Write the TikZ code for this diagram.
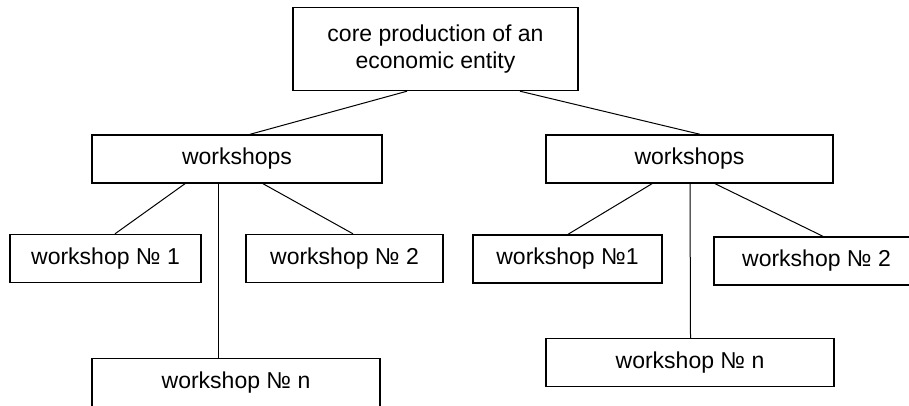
\documentclass[tikz,border=0pt]{standalone}
\usepackage{fontspec}
\setmainfont{Liberation Sans}
\usepackage{tikz}
\usetikzlibrary{positioning}

\begin{document}
\begin{tikzpicture}[
  x=1pt, y=-1pt,
  font=\fontsize{23}{27}\selectfont,
  unit/.style={draw, line width=1.4pt, align=center, inner sep=2pt,
    minimum height=48pt},
  link/.style={line width=1pt}
]
  \useasboundingbox (0,0) rectangle (909,405);

  % top level
  \node[unit, minimum width=285pt, minimum height=83pt] (core) at (435.5,49)
    {core production of an\\economic entity};

  % two groups of workshops
  \node[unit, minimum width=290pt] (wsL) at (237,159) {workshops};
  \node[unit, minimum width=287pt] (wsR) at (689.5,159) {workshops};

  \node[unit, minimum width=191pt] (wL1) at (105.5,258.5) {workshop № 1};
  \node[unit, minimum width=197pt] (wL2) at (344.5,258.5) {workshop № 2};
  \node[unit, minimum width=288pt] (wLn) at (236,382.5) {workshop № n};

  \node[unit, minimum width=189pt] (wR1) at (567.5,259) {workshop №1};
  \node[unit, minimum width=205pt] (wR2) at (816.5,261) {workshop № 2};
  \node[unit, minimum width=288pt] (wRn) at (690,362.5) {workshop № n};

  % connectors
  \draw[link] ([xshift=-28.5pt]core.south) -- ([xshift=13pt]wsL.north);
  \draw[link] ([xshift=84.5pt]core.south) -- ([xshift=10.5pt]wsR.north);

  \draw[link] ([xshift=-52pt]wsL.south) -- ([xshift=9.5pt]wL1.north);
  \draw[link] ([xshift=26pt]wsL.south) -- ([xshift=8.5pt]wL2.north);
  \draw[link] ([xshift=-19pt]wsL.south) -- ([xshift=-18pt]wLn.north);

  \draw[link] ([xshift=-37.5pt]wsR.south) -- ([xshift=0.5pt]wR1.north);
  \draw[link] ([xshift=25.5pt]wsR.south) -- ([xshift=6.5pt]wR2.north);
  \draw[link] ([xshift=0.5pt]wsR.south) -- ([xshift=0.5pt]wRn.north);
\end{tikzpicture}
\end{document}
